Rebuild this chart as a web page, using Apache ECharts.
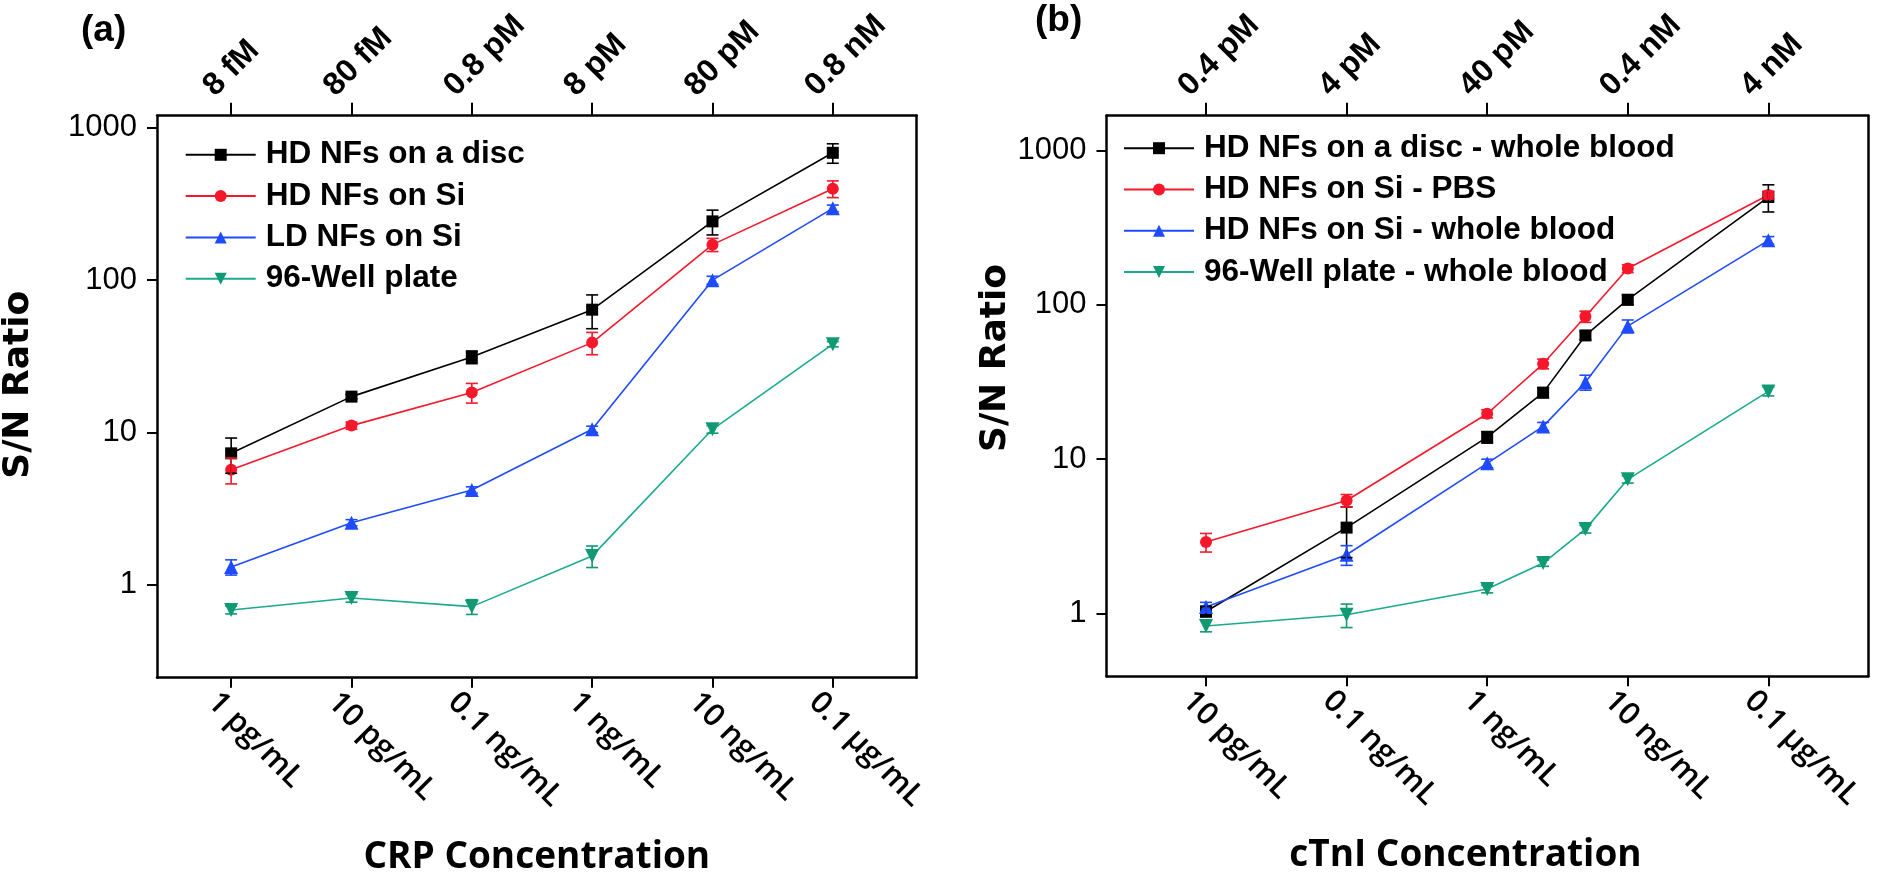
<!DOCTYPE html>
<html>
<head>
<meta charset="utf-8">
<script src="https://cdn.jsdelivr.net/npm/echarts@6/dist/echarts.min.js"></script>
<style>
html,body{margin:0;padding:0;background:#fff;}
#c{width:1882px;height:881px;}
</style>
</head>
<body>
<div id="c"></div>
<script>
// ---------- data ----------
// panel (a): CRP, x in pg/mL
const crpX = [1, 10, 100, 1000, 10000, 100000];
const crpBottomLabels = ['1 pg/mL', '10 pg/mL', '0.1 ng/mL', '1 ng/mL', '10 ng/mL', '0.1 \u03bcg/mL'];
const crpTopLabels = ['8 fM', '80 fM', '0.8 pM', '8 pM', '80 pM', '0.8 nM'];
const crpDisc = [7.3, 17.2, 31.3, 64, 243, 685];
const crpDiscErr = [1.9, 0.6, 3, 16, 45, 100];
const crpHDSi = [5.7, 11.1, 18.3, 38.9, 171, 398];
const crpHDSiErr = [1.1, 0.6, 2.7, 6.5, 17, 50];
const crpLDSi = [1.31, 2.56, 4.2, 10.5, 100, 296];
const crpLDSiErr = [0.15, 0.12, 0.2, 0.5, 6, 15];
const crpWell = [0.685, 0.82, 0.72, 1.55, 10.5, 38];
const crpWellErr = [0.04, 0.05, 0.08, 0.25, 0.6, 1.5];

// panel (b): cTnI, x in pg/mL
const tniX = [10, 100, 1000, 2500, 5000, 10000, 100000];
const tniTickValues = [10, 100, 1000, 10000, 100000];
const tniBottomLabels = ['10 pg/mL', '0.1 ng/mL', '1 ng/mL', '10 ng/mL', '0.1 \u03bcg/mL'];
const tniTopLabels = ['0.4 pM', '4 pM', '40 pM', '0.4 nM', '4 nM'];
const tniDisc = [1.03, 3.6, 13.9, 27, 63.4, 108, 500];
const tniDiscErr = [0.08, 1.3, 1.2, 2, 4, 8, 100];
const tniSiPBS = [2.9, 5.4, 19.7, 41.5, 84, 172, 516];
const tniSiPBSErr = [0.4, 0.5, 1.2, 3, 7, 10, 30];
const tniSiBlood = [1.1, 2.4, 9.4, 16.3, 31.5, 72.8, 262];
const tniSiBloodErr = [0.08, 0.35, 0.6, 1, 3.5, 7, 15];
const tniWell = [0.83, 0.98, 1.44, 2.12, 3.52, 7.4, 27.5];
const tniWellErr = [0.07, 0.17, 0.08, 0.1, 0.2, 0.4, 1.8];

const yTickValues = [1, 10, 100, 1000];

const namesA = ['HD NFs on a disc', 'HD NFs on Si', 'LD NFs on Si', '96-Well plate'];
const namesB = ['HD NFs on a disc - whole blood', 'HD NFs on Si - PBS', 'HD NFs on Si - whole blood', '96-Well plate - whole blood'];

// axis ranges
const xRangeA = [0.242, 498000], yRangeA = [0.246, 1200];
const xRangeB = [1.96, 514000], yRangeB = [0.392, 1683];

// ---------- styling ----------
const BLACK = '#000000', RED = '#f5182b', BLUE = '#1e4bff', GREEN = '#0f9a74', GREEN_LINE = '#19ab8e';
const FONT_ARIAL = '"Liberation Sans", Arial, sans-serif';
const FONT_SEGOE = '"Open Sans", "Noto Sans", sans-serif';

function pairs(xs, ys) { return xs.map((x, i) => [x, ys[i]]); }
function triples(xs, ys, es) { return xs.map((x, i) => [x, ys[i], es[i]]); }

function lineSeries(name, xs, ys, color, lineColor, symbol, size, rotate, gi) {
  return {
    type: 'line', name: name, xAxisIndex: gi * 2, yAxisIndex: gi * 2,
    data: pairs(xs, ys), symbol: symbol, symbolSize: size, symbolRotate: rotate,
    showAllSymbol: true,
    itemStyle: { color: color, borderWidth: 0 },
    lineStyle: { color: lineColor, width: 1.6 },
    emphasis: { disabled: true }, z: 3
  };
}

function errSeries(xs, ys, es, color, gi) {
  return {
    type: 'custom', name: 'err' + gi + color, xAxisIndex: gi * 2, yAxisIndex: gi * 2,
    data: triples(xs, ys, es),
    encode: { x: 0, y: 1 },
    z: 4, silent: true,
    renderItem: function (params, api) {
      const x = api.value(0), y = api.value(1), e = api.value(2);
      const hi = api.coord([x, y + e]);
      const lo = api.coord([x, y - e]);
      const h = 6;
      const st = { stroke: color, lineWidth: 1.6, fill: null };
      return {
        type: 'group', children: [
          { type: 'line', shape: { x1: hi[0], y1: hi[1], x2: lo[0], y2: lo[1] }, style: st },
          { type: 'line', shape: { x1: hi[0] - h, y1: hi[1], x2: hi[0] + h, y2: hi[1] }, style: st },
          { type: 'line', shape: { x1: lo[0] - h, y1: lo[1], x2: lo[0] + h, y2: lo[1] }, style: st }
        ]
      };
    }
  };
}

// rotated tick labels of the top (molar) axis, placed at the top-axis tick positions
function topLabelSeries(ticks, labels, yTop, gi) {
  return {
    type: 'custom', name: 'top' + gi, xAxisIndex: gi * 2 + 1, yAxisIndex: gi * 2,
    data: ticks.map((t, i) => [t, yTop, i]),
    encode: { x: 0, y: 1 },
    clip: false, silent: true, z: 6,
    renderItem: function (params, api) {
      const p = api.coord([api.value(0), api.value(1)]);
      return {
        type: 'text', x: p[0] - 11, y: p[1] - 13.5, rotation: Math.PI / 4,
        style: {
          text: labels[api.value(2)], x: 0, y: 0, align: 'left', verticalAlign: 'bottom',
          fontFamily: FONT_ARIAL, fontWeight: 'bold', fontSize: 32, fill: '#000'
        }
      };
    }
  };
}

const axisLineStyle = { show: true, lineStyle: { color: '#000', width: 2.5 } };

function bottomAxis(gi, range, ticks, labels, name, namePad) {
  return {
    type: 'log', logBase: 10, gridIndex: gi, position: 'bottom', min: range[0], max: range[1],
    axisLine: axisLineStyle,
    axisTick: { show: true, customValues: ticks, length: 10, inside: false, lineStyle: { color: '#000', width: 2 } },
    minorTick: { show: false }, splitLine: { show: false },
    axisLabel: {
      customValues: ticks, rotate: -45, margin: 1, color: '#000',
      align: 'left', verticalAlign: 'top', padding: [11, 0, 0, 0],
      fontFamily: FONT_SEGOE, fontWeight: 600, fontSize: 31,
      formatter: function (v) { const i = ticks.indexOf(v); return i >= 0 ? labels[i] : ''; }
    },
    name: name, nameLocation: 'middle', nameGap: 161,
    nameTextStyle: { fontFamily: FONT_SEGOE, fontWeight: 'bold', fontSize: 37, color: '#000', padding: namePad }
  };
}

function topAxis(gi, range, ticks) {
  return {
    type: 'log', logBase: 10, gridIndex: gi, position: 'top', min: range[0], max: range[1],
    axisLine: axisLineStyle,
    axisTick: { show: true, customValues: ticks, length: 13, inside: false, lineStyle: { color: '#000', width: 2 } },
    minorTick: { show: false }, splitLine: { show: false },
    axisLabel: { show: false }
  };
}

function leftAxis(gi, range, nameGap, namePad) {
  return {
    type: 'log', logBase: 10, gridIndex: gi, position: 'left', min: range[0], max: range[1],
    axisLine: axisLineStyle,
    axisTick: { show: true, customValues: yTickValues, length: 10, lineStyle: { color: '#000', width: 2 } },
    minorTick: { show: false }, splitLine: { show: false },
    axisLabel: {
      customValues: yTickValues, margin: 20, color: '#000',
      fontFamily: FONT_ARIAL, fontSize: 31,
      formatter: function (v) { return String(v); }
    },
    name: 'S/N Ratio', nameLocation: 'middle', nameGap: nameGap,
    nameTextStyle: { fontFamily: '"DejaVu Sans", sans-serif', fontWeight: 'bold', fontSize: 36, color: '#000', padding: namePad }
  };
}

function rightAxis(gi, range) {
  return {
    type: 'log', logBase: 10, gridIndex: gi, position: 'right', min: range[0], max: range[1],
    axisLine: axisLineStyle, axisTick: { show: false }, axisLabel: { show: false },
    minorTick: { show: false }, splitLine: { show: false }
  };
}

function legend(names, left, top) {
  return {
    show: true, data: names, orient: 'vertical', left: left, top: top, padding: 0,
    itemWidth: 70, itemHeight: 15, itemGap: 9.3, selectedMode: false,
    textStyle: { fontFamily: FONT_ARIAL, fontWeight: 'bold', fontSize: 31.5, lineHeight: 31, color: '#000', padding: [0, 0, 0, 5] }
  };
}

const option = {
  backgroundColor: '#ffffff',
  animation: false,
  title: [
    { text: '(a)', left: 81, top: 12, padding: 0, textStyle: { fontFamily: FONT_ARIAL, fontWeight: 'bold', fontSize: 37, color: '#000' } },
    { text: '(b)', left: 1035, top: 2, padding: 0, textStyle: { fontFamily: FONT_ARIAL, fontWeight: 'bold', fontSize: 37, color: '#000' } }
  ],
  grid: [
    { left: 155.5, top: 115.7, width: 761.2, height: 562 },
    { left: 1106.5, top: 115.7, width: 761.8, height: 560.5 }
  ],
  legend: [
    legend(namesA, 184.7, 138.8),
    legend(namesB, 1123, 132.2)
  ],
  xAxis: [
    bottomAxis(0, xRangeA, crpX, crpBottomLabels, 'CRP Concentration', 0),
    topAxis(0, xRangeA, crpX),
    bottomAxis(1, xRangeB, tniTickValues, tniBottomLabels, 'cTnI Concentration', [0, 44, 0, 0]),
    topAxis(1, xRangeB, tniTickValues)
  ],
  yAxis: [
    leftAxis(0, yRangeA, 120, [0, 0, 0, 24]),
    rightAxis(0, yRangeA),
    leftAxis(1, yRangeB, 89, [0, 0, 0, 76]),
    rightAxis(1, yRangeB)
  ],
  series: [
    lineSeries(namesA[0], crpX, crpDisc, BLACK, BLACK, 'rect', 12, 0, 0),
    lineSeries(namesA[1], crpX, crpHDSi, RED, RED, 'circle', 12, 0, 0),
    lineSeries(namesA[2], crpX, crpLDSi, BLUE, BLUE, 'triangle', 14, 0, 0),
    lineSeries(namesA[3], crpX, crpWell, GREEN, GREEN_LINE, 'triangle', 14, 180, 0),
    errSeries(crpX, crpDisc, crpDiscErr, BLACK, 0),
    errSeries(crpX, crpHDSi, crpHDSiErr, RED, 0),
    errSeries(crpX, crpLDSi, crpLDSiErr, BLUE, 0),
    errSeries(crpX, crpWell, crpWellErr, GREEN, 0),
    topLabelSeries(crpX, crpTopLabels, yRangeA[1], 0),
    lineSeries(namesB[0], tniX, tniDisc, BLACK, BLACK, 'rect', 12, 0, 1),
    lineSeries(namesB[1], tniX, tniSiPBS, RED, RED, 'circle', 12, 0, 1),
    lineSeries(namesB[2], tniX, tniSiBlood, BLUE, BLUE, 'triangle', 14, 0, 1),
    lineSeries(namesB[3], tniX, tniWell, GREEN, GREEN_LINE, 'triangle', 14, 180, 1),
    errSeries(tniX, tniDisc, tniDiscErr, BLACK, 1),
    errSeries(tniX, tniSiPBS, tniSiPBSErr, RED, 1),
    errSeries(tniX, tniSiBlood, tniSiBloodErr, BLUE, 1),
    errSeries(tniX, tniWell, tniWellErr, GREEN, 1),
    topLabelSeries(tniTickValues, tniTopLabels, yRangeB[1], 1)
  ]
};

const chart = echarts.init(document.getElementById('c'), null, { renderer: 'canvas' });
chart.setOption(option);
</script>
</body>
</html>
